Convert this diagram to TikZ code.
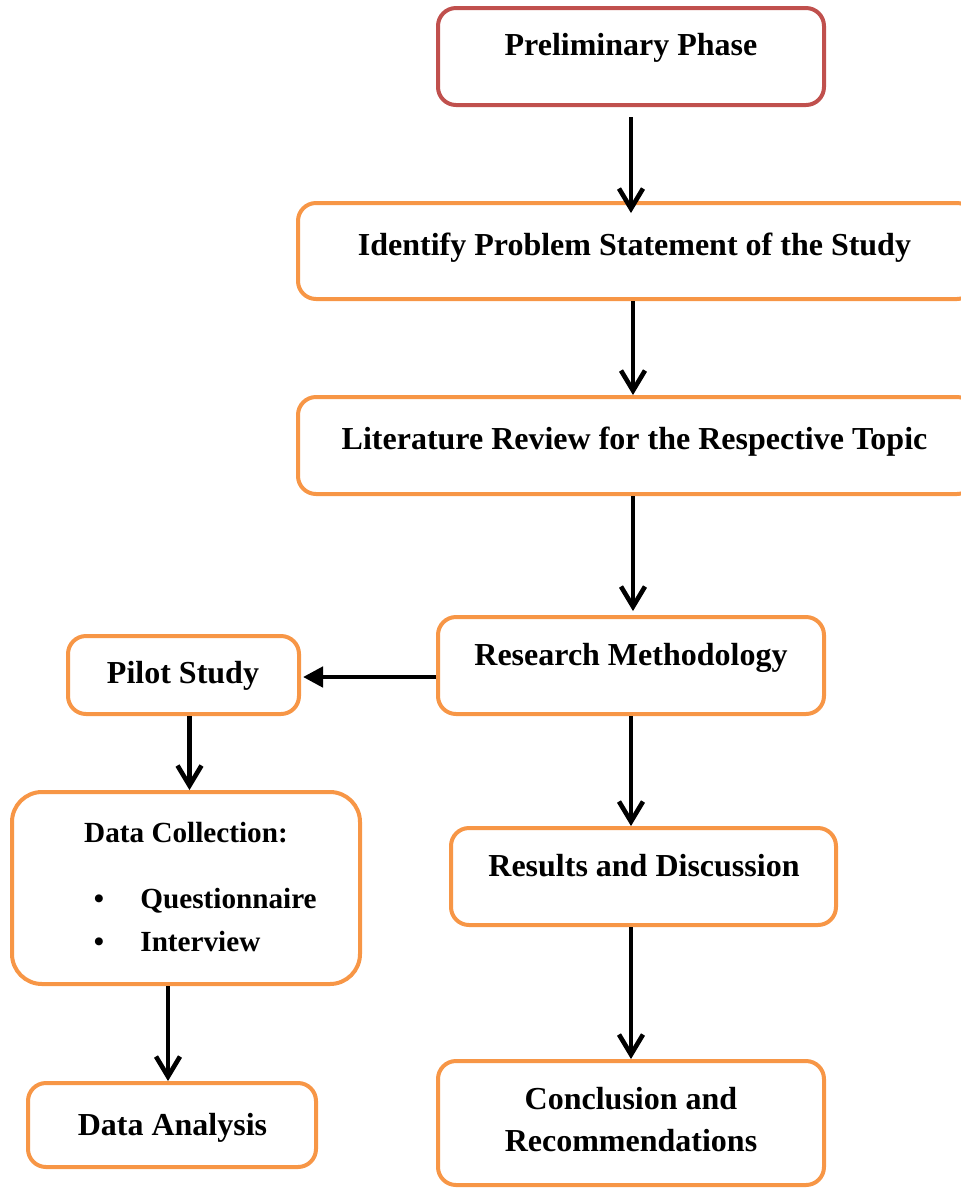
\documentclass[tikz,border=0pt]{standalone}
\usepackage{fontspec}
\setmainfont{Liberation Serif}
\usetikzlibrary{arrows.meta}
\definecolor{boxred}{HTML}{C0504D}
\definecolor{boxorange}{HTML}{F79646}
\begin{document}
\begin{tikzpicture}[x=0.5pt,y=-0.5pt,
  box/.style={draw=boxorange,line width=2pt,rounded corners=9pt,inner sep=0pt,fill=white},
  lbl/.style={font=\fontsize{16}{19}\selectfont\bfseries,inner sep=0pt,anchor=base},
  slbl/.style={font=\fontsize{14.6}{17}\selectfont\bfseries,inner sep=0pt,anchor=base},
  flow/.style={line width=2.3pt,-{Straight Barb[length=10pt,width=12pt,line width=2.3pt]}},
  hflow/.style={line width=2.3pt,-{Triangle[length=10pt,width=10pt]}}]
\useasboundingbox (0,0) rectangle (961,1191);
\clip (0,0) rectangle (961,1191);
% boxes
\node[box,draw=boxred,minimum width=193pt,minimum height=48.5pt] (pp) at (631,56.5) {};
\node[box,minimum width=338.5pt,minimum height=48pt] (ips) at (636.5,251) {};
\node[box,minimum width=338.5pt,minimum height=48.5pt] (lr) at (636.5,445.5) {};
\node[box,minimum width=193pt,minimum height=48.5pt] (rm) at (631,665.5) {};
\node[box,minimum width=115.5pt,minimum height=39pt] (ps) at (183.5,675) {};
\node[box,rounded corners=15pt,minimum width=174pt,minimum height=96pt] (dc) at (186,888) {};
\node[box,minimum width=192.5pt,minimum height=48.5pt] (rd) at (643.5,876.5) {};
\node[box,minimum width=144pt,minimum height=42pt] (da) at (172,1125) {};
\node[box,minimum width=193pt,minimum height=62pt] (cr) at (631,1123) {};
% labels
\node[lbl] (tpp) at (631,55) {Preliminary Phase};
\node[lbl] (tips) at (634.5,255) {Identify Problem Statement of the Study};
\node[lbl] (tlr) at (634.5,449) {Literature Review for the Respective Topic};
\node[lbl] (trm) at (631,665) {Research Methodology};
\node[lbl] (tps) at (183,683) {Pilot Study};
\node[slbl] (tdc) at (186,842) {Data Collection:};
\node[slbl] (b1) at (99,908) {•};
\node[slbl] (b2) at (99,951) {•};
\node[slbl,anchor=base west] (tq) at (140,908) {Questionnaire};
\node[slbl,anchor=base west] (ti) at (140,951) {Interview};
\node[lbl] (trd) at (644,876) {Results and Discussion};
\node[lbl] (tda) at (172.5,1135) {Data Analysis};
\node[lbl] (tc1) at (631,1109) {Conclusion and};
\node[lbl] (tc2) at (631,1151) {Recommendations};
% connectors
\draw[flow,shorten <=5pt,shorten >=-6pt] (pp.south) -- (pp.south |- ips.north);
\draw[flow] ([xshift=1pt]pp.south |- ips.south) -- ([xshift=1pt]pp.south |- lr.north);
\draw[flow,shorten >=2pt] ([xshift=1pt]pp.south |- lr.south) -- ([xshift=1pt]pp.south |- rm.north);
\draw[hflow] ([yshift=-1pt]rm.west |- ps.east) -- ([yshift=-1pt,xshift=1pt]ps.east);
\draw[flow] ([xshift=3pt]ps.south) -- ([xshift=3pt]ps.south |- dc.north);
\draw[flow] (rm.south) -- (rm.south |- rd.north);
\draw[flow] (rm.south |- rd.south) -- (rm.south |- cr.north);
\draw[flow] ([xshift=-9pt]dc.south) -- ([xshift=-9pt]dc.south |- da.north);
\end{tikzpicture}
\end{document}
